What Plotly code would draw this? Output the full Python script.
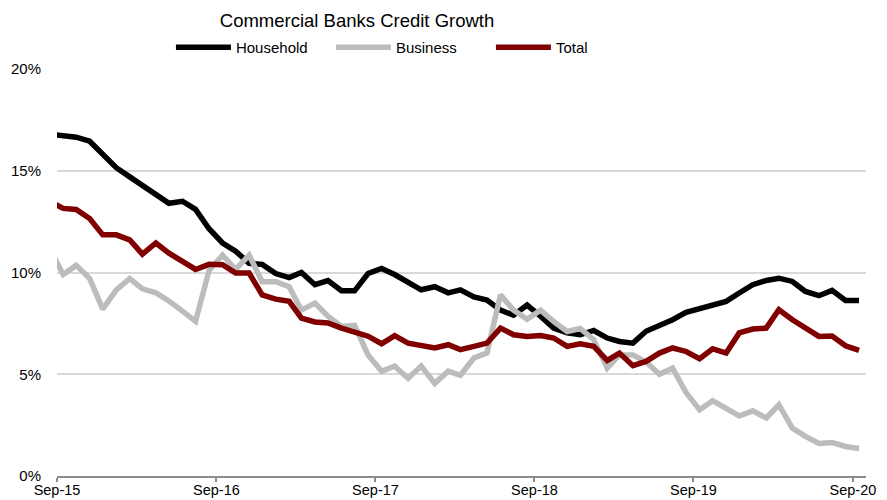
import plotly.graph_objects as go

# Monthly observations (mid-month), Aug-2015 .. Sep-2020
months = [f"{2015 + (7 + i) // 12}-{(7 + i) % 12 + 1:02d}-15" for i in range(62)]

household = [16.8, 16.75, 16.65, 16.45, 15.8, 15.15, 14.7, 14.3, 13.85, 13.4,
             13.5, 13.1, 12.15, 11.45, 11.05, 10.45, 10.4, 9.95, 9.75, 10.0,
             9.4, 9.6, 9.1, 9.1, 9.95, 10.2, 9.9, 9.5, 9.15, 9.3,
             9.0, 9.15, 8.8, 8.65, 8.15, 7.9, 8.4, 7.85, 7.27, 7.03,
             6.94, 7.15, 6.78, 6.61, 6.53, 7.11, 7.38, 7.68, 8.04, 8.2,
             8.42, 8.58, 8.99, 9.4, 9.61, 9.72, 9.56, 9.07, 8.86, 9.12,
             8.63, 8.63]

business = [11.2, 9.9, 10.35, 9.7, 8.2, 9.15, 9.7, 9.2, 9.0, 8.6,
            8.1, 7.6, 10.1, 10.85, 10.15, 10.85, 9.55, 9.55, 9.3, 8.15,
            8.5, 7.85, 7.35, 7.4, 5.95, 5.15, 5.4, 4.8, 5.4, 4.55,
            5.15, 4.95, 5.8, 6.05, 8.9, 8.15, 7.7, 8.15, 7.6, 7.1,
            7.25, 6.7, 5.3, 5.95, 5.95, 5.6, 5.0, 5.3, 4.1, 3.25,
            3.7, 3.35, 2.95, 3.2, 2.85, 3.5, 2.35, 1.95, 1.6, 1.65,
            1.45, 1.35]

total = [13.5, 13.15, 13.1, 12.65, 11.85, 11.85, 11.6, 10.9, 11.45, 10.95,
         10.55, 10.15, 10.4, 10.38, 9.97, 9.97, 8.9, 8.69, 8.58, 7.76,
         7.57, 7.52, 7.27, 7.06, 6.87, 6.5, 6.9, 6.53, 6.4, 6.29,
         6.45, 6.21, 6.37, 6.53, 7.27, 6.94, 6.86, 6.9, 6.78, 6.37,
         6.5, 6.37, 5.68, 6.04, 5.42, 5.63, 6.04, 6.29, 6.12, 5.76,
         6.25, 6.04, 7.03, 7.22, 7.27, 8.17, 7.68, 7.27, 6.86, 6.88,
         6.4, 6.17]

tick_dates = ["2015-09-01", "2016-09-01", "2017-09-01", "2018-09-01", "2019-09-01", "2020-09-01"]
tick_labels = ["Sep-15", "Sep-16", "Sep-17", "Sep-18", "Sep-19", "Sep-20"]
y_ticks = [0, 5, 10, 15, 20]
y_labels = ["0%", "5%", "10%", "15%", "20%"]

series = [("Household", household, "#000000"),
          ("Business", business, "#bcbcbc"),
          ("Total", total, "#800000")]

fig = go.Figure()
for name, vals, color in series:
    fig.add_trace(go.Scatter(x=months, y=vals, name=name, mode="lines",
                             line=dict(color=color, width=5.5)))

font = "Liberation Sans, Arial, sans-serif"
fig.update_layout(
    width=887, height=500,
    margin=dict(l=57, r=21, t=69, b=24, pad=0),
    paper_bgcolor="white", plot_bgcolor="white",
    font=dict(family=font, size=15, color="#000000"),
    title=dict(text="Commercial Banks Credit Growth", x=0.4025, xref="container",
               xanchor="center", y=1 - 21 / 500, yref="container", yanchor="middle",
               font=dict(size=18.5, family=font, color="#000000")),
    legend=dict(orientation="h", x=0.4375, xanchor="center", y=1.053, yanchor="middle",
                font=dict(size=15, family=font), itemwidth=55,
                entrywidth=90, entrywidthmode="pixels",
                bgcolor="rgba(0,0,0,0)"),
    showlegend=True,
)
fig.update_xaxes(type="date", range=["2015-09-01", "2020-10-01"],
                 tickvals=tick_dates, ticktext=tick_labels, automargin=False,
                 showgrid=False, showline=True, linecolor="#8c8c8c", linewidth=1.5,
                 ticks="outside", ticklen=4, tickcolor="#8c8c8c", tickwidth=1.5,
                 ticklabelstandoff=-4,
                 tickfont=dict(size=14.5, family=font), zeroline=False)
fig.update_yaxes(range=[0, 20], tickvals=y_ticks, ticktext=y_labels, automargin=False,
                 showgrid=True, gridcolor="#d9d9d9", gridwidth=1.5,
                 zeroline=False, showline=False, ticks="",
                 ticklabelstandoff=15,
                 tickfont=dict(size=15, family=font))

fig.write_html("out.html")
